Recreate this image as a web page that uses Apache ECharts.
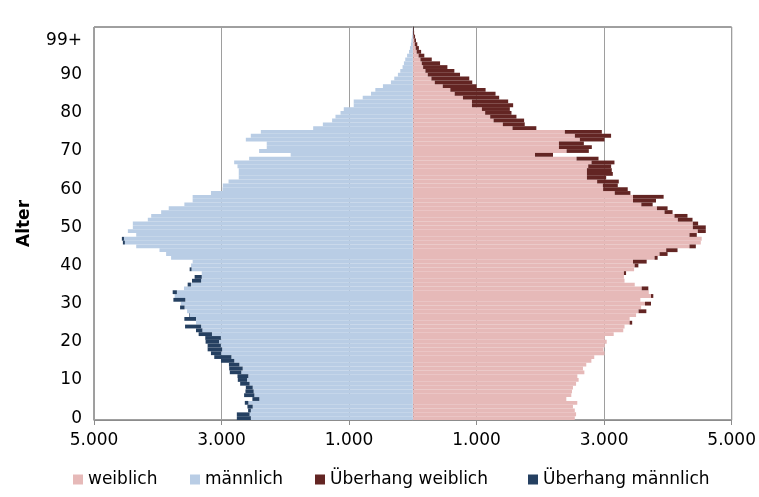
<!DOCTYPE html>
<html>
<head>
<meta charset="utf-8">
<script src="https://cdn.jsdelivr.net/npm/echarts@6/dist/echarts.min.js"></script>
<style>
  html, body { margin: 0; padding: 0; background: #fff; }
  #main { width: 759px; height: 497px; }
</style>
</head>
<body>
<div id="main"></div>
<script>
// Altersjahre 0 .. 102 (Beschriftung "99+" beim Index 99)
const ages = [];
for (let a = 0; a <= 102; a++) ages.push(a === 99 ? '99+' : String(a));
const yLabels = ['0', '10', '20', '30', '40', '50', '60', '70', '80', '90', '99+'];

// Frauen je Altersjahr
const frauen = [
  2540, 2560, 2540, 2511, 2579, 2407, 2485, 2496, 2511, 2560,
  2600, 2580, 2690, 2668, 2720, 2800, 2845, 3006, 2990, 3010,
  3040, 3010, 3150, 3300, 3320, 3440, 3400, 3501, 3662, 3580,
  3735, 3568, 3771, 3700, 3693, 3480, 3320, 3310, 3344, 3470,
  3537, 3667, 3839, 3995, 4151, 4438, 4516, 4530, 4453, 4594,
  4594, 4474, 4386, 4307, 4073, 3995, 3761, 3813, 3933, 3412,
  3370, 3214, 3230, 3032, 3136, 3120, 3110, 3162, 2912, 2198,
  2760, 2807, 2682, 3006, 3109, 2964, 1937, 1755, 1745, 1625,
  1547, 1521, 1573, 1495, 1354, 1297, 1141, 1000, 932, 885,
  740, 651, 542, 427, 297, 180, 130, 95, 70, 50,
  35, 20, 8
];

// Männer je Altersjahr
const maenner = [
  2760, 2760, 2583, 2594, 2635, 2516, 2646, 2625, 2619, 2708,
  2745, 2750, 2870, 2880, 2884, 3009, 3114, 3166, 3218, 3218,
  3250, 3255, 3359, 3400, 3572, 3400, 3583, 3510, 3540, 3650,
  3640, 3755, 3735, 3766, 3589, 3531, 3463, 3422, 3310, 3500,
  3478, 3453, 3791, 3869, 3973, 4338, 4547, 4563, 4338, 4469,
  4391, 4391, 4156, 4103, 3947, 3828, 3583, 3453, 3453, 3166,
  2984, 2980, 2890, 2730, 2730, 2730, 2750, 2802, 2567, 1916,
  2411, 2291, 2291, 2619, 2541, 2384, 1563, 1411, 1266, 1213,
  1134, 1083, 927, 927, 786, 656, 588, 469, 344, 291,
  234, 197, 161, 140, 119, 90, 60, 45, 30, 22,
  14, 8, 4
];

const xTicks = [-5000, -3000, -1000, 1000, 3000, 5000];
const xTickLabels = ['5.000', '3.000', '1.000', '1.000', '3.000', '5.000'];

const seriesNames = ['weiblich', 'männlich', 'Überhang weiblich', 'Überhang männlich'];
const seriesColors = ['#e6b9b8', '#b9cde5', '#632523', '#254061'];

// gemeinsamer Sockel + Überhang je Seite
const base = frauen.map((f, i) => Math.min(f, maenner[i]));
const uebW = frauen.map((f, i) => Math.max(f - maenner[i], 0));
const uebM = maenner.map((m, i) => -Math.max(m - frauen[i], 0));

const font = 'DejaVu Sans';
const chart = echarts.init(document.getElementById('main'));

// eine Legende je Eintrag, damit die Abstände wie im Original sitzen
const legendLeft = [68, 185, 310, 523];
const legends = seriesNames.map((n, i) => ({
  top: 466, left: legendLeft[i],
  itemWidth: 10, itemHeight: 10,
  icon: 'rect',
  textStyle: { fontFamily: font, fontSize: 17, color: '#000' },
  data: [n]
}));

const barBase = {
  type: 'bar',
  barCategoryGap: '0%',
  barGap: '-100%',
  silent: true
};

chart.setOption({
  animation: false,
  textStyle: { fontFamily: font, color: '#000' },
  grid: {
    left: 94, right: 25, top: 27, bottom: 77,
    show: true, borderColor: '#404040', borderWidth: 1
  },
  legend: legends,
  xAxis: {
    type: 'value',
    min: -5000, max: 5000,
    axisLine: { show: true, lineStyle: { color: '#8c8c8c', width: 1 } },
    axisTick: { show: true, length: 5, customValues: xTicks, lineStyle: { color: '#8c8c8c' } },
    axisLabel: {
      customValues: xTicks,
      fontSize: 17, color: '#000', margin: 12,
      formatter: v => xTickLabels[xTicks.indexOf(v)]
    },
    splitLine: { show: true, lineStyle: { color: '#9e9e9e', width: 1 } }
  },
  yAxis: {
    type: 'category',
    data: ages,
    name: 'Alter',
    nameLocation: 'middle',
    nameGap: 61,
    nameRotate: 90,
    nameTextStyle: { fontFamily: font, fontSize: 17, fontWeight: 'bold', color: '#000' },
    axisLine: { show: true, lineStyle: { color: '#404040' } },
    axisTick: { show: false },
    axisLabel: {
      fontSize: 17, color: '#000', margin: 12,
      interval: (idx, val) => yLabels.indexOf(val) >= 0
    },
    splitLine: { show: false }
  },
  series: [
    Object.assign({}, barBase, {
      name: seriesNames[0], stack: 'w',
      itemStyle: { color: seriesColors[0] },
      data: base
    }),
    Object.assign({}, barBase, {
      name: seriesNames[1], stack: 'm',
      itemStyle: { color: seriesColors[1] },
      data: base.map(v => -v)
    }),
    Object.assign({}, barBase, {
      name: seriesNames[2], stack: 'w',
      itemStyle: { color: seriesColors[2] },
      data: uebW
    }),
    Object.assign({}, barBase, {
      name: seriesNames[3], stack: 'm',
      itemStyle: { color: seriesColors[3] },
      data: uebM
    })
  ]
});
</script>
</body>
</html>
